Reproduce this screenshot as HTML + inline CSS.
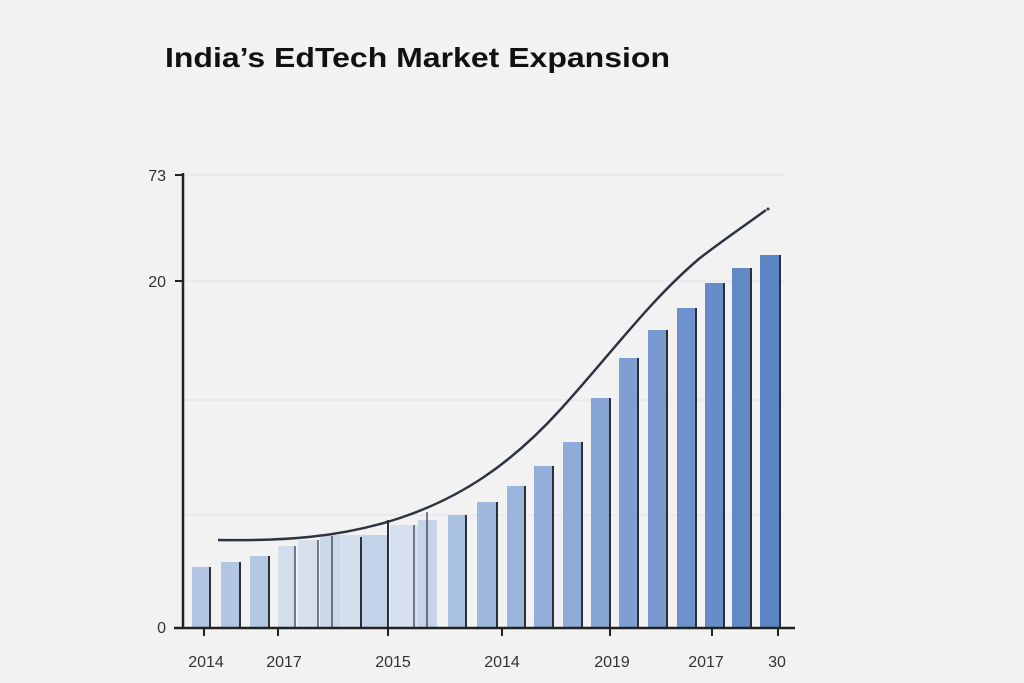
<!DOCTYPE html>
<html><head><style>
body{margin:0;background:#f3f3f4;}
svg{display:block}
</style></head><body>
<svg width="1024" height="683" viewBox="0 0 1024 683" xmlns="http://www.w3.org/2000/svg">
<rect width="1024" height="683" fill="#f2f2f3"/>
<text x="165" y="67" font-family="Liberation Sans, sans-serif" font-weight="bold" font-size="28" fill="#111" textLength="505" lengthAdjust="spacingAndGlyphs">India’s EdTech Market Expansion</text>
<g stroke="#e2e3e6" stroke-width="1">
<line x1="183" y1="175" x2="785" y2="175"/>
<line x1="183" y1="281" x2="785" y2="281"/>
<line x1="183" y1="400" x2="785" y2="400"/>
<line x1="183" y1="515" x2="785" y2="515"/>
</g>
<g font-family="Liberation Sans, sans-serif" font-size="16" fill="#333" text-anchor="end">
<text x="166" y="181">73</text>
<text x="166" y="287">20</text>
<text x="166" y="633">0</text>
</g>
<g stroke="#222" stroke-width="2">
<line x1="175" y1="175" x2="183" y2="175"/>
<line x1="175" y1="281" x2="183" y2="281"/>
</g>
<g>
<rect x="192" y="567" width="18" height="61" fill="#b2c6e2"/>
<rect x="221" y="562" width="19" height="66" fill="#b2c6e2"/>
<rect x="250" y="556" width="19" height="72" fill="#b4c8e3"/>
<rect x="278" y="546" width="17" height="82" fill="#d3deec"/>
<rect x="298" y="540" width="20" height="88" fill="#d6e0ee"/>
<rect x="320" y="535" width="20" height="93" fill="#cbd8ea"/>
<rect x="340" y="535" width="22" height="93" fill="#d4dfed"/>
<rect x="362" y="535" width="26" height="93" fill="#c2d2e8"/>
<rect x="390" y="525" width="28" height="103" fill="#d6e0ee"/>
<rect x="418" y="520" width="19" height="108" fill="#c6d4e9"/>
<rect x="448" y="515" width="18" height="113" fill="#a9c0e0"/>
<rect x="477" y="502" width="20" height="126" fill="#9fb8de"/>
<rect x="507" y="486" width="18" height="142" fill="#9cb5dc"/>
<rect x="534" y="466" width="19" height="162" fill="#93aed9"/>
<rect x="563" y="442" width="19" height="186" fill="#8fabd8"/>
<rect x="591" y="398" width="19" height="230" fill="#86a5d5"/>
<rect x="619" y="358" width="19" height="270" fill="#7e9fd2"/>
<rect x="648" y="330" width="19" height="298" fill="#7799ce"/>
<rect x="677" y="308" width="19" height="320" fill="#6e92cb"/>
<rect x="705" y="283" width="19" height="345" fill="#678dc8"/>
<rect x="732" y="268" width="19" height="360" fill="#6189c6"/>
<rect x="760" y="255" width="20" height="373" fill="#5a84c3"/>
</g>
<g stroke="#2a2f38" stroke-width="2">
<line x1="210" y1="567" x2="210" y2="628"/>
<line x1="240" y1="562" x2="240" y2="628"/>
<line x1="269" y1="556" x2="269" y2="628"/>
<line x1="295" y1="546" x2="295" y2="628" stroke-width="1.2"/>
<line x1="318" y1="540" x2="318" y2="628" stroke-width="1.2"/>
<line x1="332" y1="536" x2="332" y2="628" stroke-width="1.2"/>
<line x1="361" y1="537" x2="361" y2="628"/>
<line x1="388" y1="520" x2="388" y2="628"/>
<line x1="414" y1="525" x2="414" y2="628" stroke-width="1.2"/>
<line x1="427" y1="512" x2="427" y2="628" stroke-width="1.2"/>
<line x1="466" y1="515" x2="466" y2="628"/>
<line x1="497" y1="502" x2="497" y2="628"/>
<line x1="525" y1="486" x2="525" y2="628"/>
<line x1="553" y1="466" x2="553" y2="628"/>
<line x1="582" y1="442" x2="582" y2="628"/>
<line x1="610" y1="398" x2="610" y2="628"/>
<line x1="638" y1="358" x2="638" y2="628"/>
<line x1="667" y1="330" x2="667" y2="628"/>
<line x1="696" y1="308" x2="696" y2="628"/>
<line x1="724" y1="283" x2="724" y2="628"/>
<line x1="751" y1="268" x2="751" y2="628"/>
<line x1="780" y1="255" x2="780" y2="628"/>
</g>
<path d="M218 540 C280 541 340 538 400 518 C460 498 510 465 560 410 C610 355 650 300 700 258 C730 235 750 222 766 210" fill="none" stroke="#2d3440" stroke-width="2.5"/>
<circle cx="768" cy="209" r="1.5" fill="#333"/>
<line x1="183" y1="173" x2="183" y2="629" stroke="#222" stroke-width="2.5"/>
<line x1="174" y1="628" x2="795" y2="628" stroke="#222" stroke-width="2.5"/>
<g stroke="#222" stroke-width="2">
<line x1="204" y1="628" x2="204" y2="636"/>
<line x1="278" y1="628" x2="278" y2="636"/>
<line x1="388" y1="628" x2="388" y2="636"/>
<line x1="502" y1="628" x2="502" y2="636"/>
<line x1="610" y1="628" x2="610" y2="636"/>
<line x1="712" y1="628" x2="712" y2="636"/>
<line x1="778" y1="628" x2="778" y2="636"/>
</g>
<g font-family="Liberation Sans, sans-serif" font-size="16" fill="#333" text-anchor="middle">
<text x="206" y="667">2014</text>
<text x="284" y="667">2017</text>
<text x="393" y="667">2015</text>
<text x="502" y="667">2014</text>
<text x="612" y="667">2019</text>
<text x="706" y="667">2017</text>
<text x="777" y="667">30</text>
</g>
</svg>
</body></html>
